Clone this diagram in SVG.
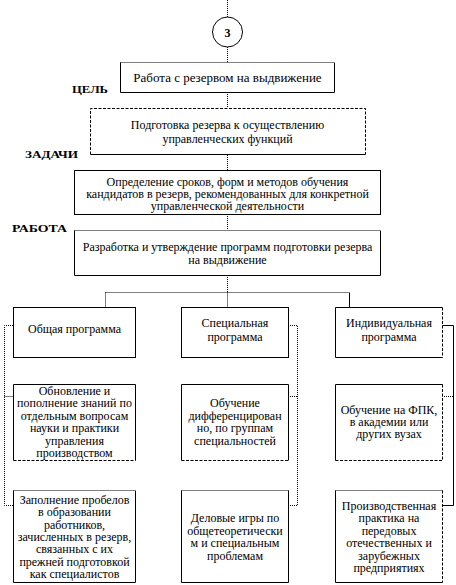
<svg xmlns="http://www.w3.org/2000/svg" width="456" height="585" viewBox="0 0 456 585">
<defs>
<path id="unused" d="M0 0"/>
</defs>
<rect width="456" height="585" fill="#fff"/>
<g id="connectors" fill="none" stroke="#000" stroke-width="1">
<path stroke-dasharray="1 1" d="M227.5 0V17M227.5 47V62M227.5 92V108M227.5 155V170M227.5 214V230M227.5 275V292.5M105.5 292.5H349.5M105.5 292.5V307M227.5 292.5V307"/>
<path d="M349.5 292.5V307"/>
<path stroke-dasharray="1 1" d="M13 325.5H4.5V505.5H13M4.5 396.5H13"/>
<path stroke-dasharray="1 1" d="M288 325.5H297.5V505.5H288M288 396.5H297.5"/>
<path d="M442 325.5H453.5V505.5H442"/>
<path stroke-dasharray="1 1" d="M442 396.5H453"/>
</g>
<g id="circle3">
<circle cx="227.5" cy="32" r="15" fill="#fff" stroke="#000"/>
<text x="227.5" y="36.5" font-family="Liberation Serif" font-size="12" font-weight="bold" text-anchor="middle">3</text>
</g>
<g id="n1">
<rect x="120.5" y="62.5" width="214" height="30" fill="#fff"/>
<path fill="none" stroke="#000" stroke-dasharray="1 1" d="M120.5 62.5H334.5"/>
<path fill="none" stroke="#000" d="M120.5 62.5V92.5H334.5V62.5"/>
<text x="227.5" y="81.5" font-family="Liberation Serif" font-size="13" text-anchor="middle">Работа с резервом на выдвижение</text>
</g>
<text id="lab-cel" x="72" y="93" font-family="Liberation Serif" font-size="10" font-weight="bold" textLength="36" lengthAdjust="spacingAndGlyphs">ЦЕЛЬ</text>
<g id="n2">
<rect x="90.5" y="108.5" width="275" height="46" fill="#fff"/>
<path fill="none" stroke="#000" stroke-dasharray="3 1.5" d="M90.5 154.5V108.5H365.5V154.5"/>
<path fill="none" stroke="#000" d="M90.5 154.5H365.5"/>
<text x="227.5" y="129" font-family="Liberation Serif" font-size="12" text-anchor="middle">Подготовка резерва к осуществлению</text>
<text x="227.5" y="143" font-family="Liberation Serif" font-size="12" text-anchor="middle">управленческих функций</text>
</g>
<text id="lab-zad" x="25" y="158" font-family="Liberation Serif" font-size="10" font-weight="bold" textLength="53" lengthAdjust="spacingAndGlyphs">ЗАДАЧИ</text>
<g id="n3">
<rect x="74.5" y="170.5" width="306" height="44" fill="#fff" stroke="#000"/>
<text x="227.5" y="186" font-family="Liberation Serif" font-size="12" text-anchor="middle">Определение сроков, форм и методов обучения</text>
<text x="227.5" y="198" font-family="Liberation Serif" font-size="12" text-anchor="middle">кандидатов в резерв, рекомендованных для конкретной</text>
<text x="227.5" y="210" font-family="Liberation Serif" font-size="12" text-anchor="middle">управленческой деятельности</text>
</g>
<text id="lab-rab" x="12" y="232" font-family="Liberation Serif" font-size="10" font-weight="bold" textLength="55" lengthAdjust="spacingAndGlyphs">РАБОТА</text>
<g id="n4">
<rect x="74.5" y="230.5" width="306" height="45" fill="#fff"/>
<path fill="none" stroke="#000" stroke-dasharray="1 1" d="M74.5 230.5H380.5"/>
<path fill="none" stroke="#000" d="M74.5 230.5V275.5H380.5V230.5"/>
<text x="227.5" y="251" font-family="Liberation Serif" font-size="12" text-anchor="middle">Разработка и утверждение программ подготовки резерва</text>
<text x="227.5" y="263.5" font-family="Liberation Serif" font-size="12" text-anchor="middle">на выдвижение</text>
</g>
<g id="p1">
<rect x="13.5" y="307.5" width="122" height="50" fill="#fff" stroke="#000"/>
<text x="74.5" y="333" font-family="Liberation Serif" font-size="12" text-anchor="middle">Общая программа</text>
</g>
<g id="p2">
<rect x="181.5" y="307.5" width="107" height="50" fill="#fff" stroke="#000"/>
<text x="235" y="327" font-family="Liberation Serif" font-size="12" text-anchor="middle">Специальная</text>
<text x="235" y="341" font-family="Liberation Serif" font-size="12" text-anchor="middle">программа</text>
</g>
<g id="p3">
<rect x="335.5" y="307.5" width="107" height="50" fill="#fff"/>
<path fill="none" stroke="#000" d="M442.5 307.5H335.5V357.5H442.5"/>
<path fill="none" stroke="#000" stroke-dasharray="3 1.5" d="M442.5 307.5V357.5"/>
<text x="389" y="327" font-family="Liberation Serif" font-size="12" text-anchor="middle">Индивидуальная</text>
<text x="389" y="341" font-family="Liberation Serif" font-size="12" text-anchor="middle">программа</text>
</g>
<g id="a1">
<rect x="13.5" y="384.5" width="122" height="76" fill="#fff"/>
<path fill="none" stroke="#000" d="M13.5 460.5V384.5H135.5V460.5"/>
<path fill="none" stroke="#000" stroke-dasharray="3 1.5" d="M13.5 460.5H135.5"/>
<text x="74.5" y="395" font-family="Liberation Serif" font-size="12" text-anchor="middle">Обновление и</text>
<text x="74.5" y="407.4" font-family="Liberation Serif" font-size="12" text-anchor="middle">пополнение знаний по</text>
<text x="74.5" y="419.8" font-family="Liberation Serif" font-size="12" text-anchor="middle">отдельным вопросам</text>
<text x="74.5" y="432.2" font-family="Liberation Serif" font-size="12" text-anchor="middle">науки и практики</text>
<text x="74.5" y="444.6" font-family="Liberation Serif" font-size="12" text-anchor="middle">управления</text>
<text x="74.5" y="457" font-family="Liberation Serif" font-size="12" text-anchor="middle">производством</text>
</g>
<g id="a2">
<rect x="181.5" y="384.5" width="107" height="76" fill="#fff"/>
<path fill="none" stroke="#000" d="M181.5 460.5V384.5H288.5V460.5"/>
<path fill="none" stroke="#000" stroke-dasharray="3 1.5" d="M181.5 460.5H288.5"/>
<text x="235" y="407.4" font-family="Liberation Serif" font-size="12" text-anchor="middle">Обучение</text>
<text x="235" y="419.8" font-family="Liberation Serif" font-size="12" text-anchor="middle">дифференцирован</text>
<text x="235" y="432.2" font-family="Liberation Serif" font-size="12" text-anchor="middle">но, по группам</text>
<text x="235" y="444.6" font-family="Liberation Serif" font-size="12" text-anchor="middle">специальностей</text>
</g>
<g id="a3">
<rect x="335.5" y="384.5" width="107" height="76" fill="#fff"/>
<path fill="none" stroke="#000" d="M335.5 460.5V384.5H442.5"/>
<path fill="none" stroke="#000" stroke-dasharray="3 1.5" d="M442.5 384.5V460.5H335.5"/>
<text x="389" y="413.6" font-family="Liberation Serif" font-size="12" text-anchor="middle">Обучение на ФПК,</text>
<text x="389" y="426" font-family="Liberation Serif" font-size="12" text-anchor="middle">в академии или</text>
<text x="389" y="438.4" font-family="Liberation Serif" font-size="12" text-anchor="middle">других вузах</text>
</g>
<g id="b1">
<rect x="13.5" y="490.5" width="122" height="92" fill="#fff"/>
<path fill="none" stroke="#000" stroke-dasharray="1 1" d="M13.5 490.5H135.5"/>
<path fill="none" stroke="#000" d="M13.5 490.5V582.5H135.5V490.5"/>
<text x="74.5" y="503.8" font-family="Liberation Serif" font-size="12" text-anchor="middle">Заполнение пробелов</text>
<text x="74.5" y="516.2" font-family="Liberation Serif" font-size="12" text-anchor="middle">в образовании</text>
<text x="74.5" y="528.6" font-family="Liberation Serif" font-size="12" text-anchor="middle">работников,</text>
<text x="74.5" y="541" font-family="Liberation Serif" font-size="12" text-anchor="middle">зачисленных в резерв,</text>
<text x="74.5" y="553.4" font-family="Liberation Serif" font-size="12" text-anchor="middle">связанных с их</text>
<text x="74.5" y="565.8" font-family="Liberation Serif" font-size="12" text-anchor="middle">прежней подготовкой</text>
<text x="74.5" y="578.2" font-family="Liberation Serif" font-size="12" text-anchor="middle">как специалистов</text>
</g>
<g id="b2">
<rect x="181.5" y="490.5" width="107" height="92" fill="#fff"/>
<path fill="none" stroke="#000" stroke-dasharray="1 1" d="M181.5 490.5H288.5"/>
<path fill="none" stroke="#000" d="M181.5 490.5V582.5H288.5V490.5"/>
<text x="235" y="522.4" font-family="Liberation Serif" font-size="12" text-anchor="middle">Деловые игры по</text>
<text x="235" y="534.8" font-family="Liberation Serif" font-size="12" text-anchor="middle">общетеоретически</text>
<text x="235" y="547.2" font-family="Liberation Serif" font-size="12" text-anchor="middle">м и специальным</text>
<text x="235" y="559.6" font-family="Liberation Serif" font-size="12" text-anchor="middle">проблемам</text>
</g>
<g id="b3">
<rect x="335.5" y="490.5" width="107" height="92" fill="#fff"/>
<path fill="none" stroke="#000" stroke-dasharray="1 1" d="M335.5 490.5H442.5"/>
<path fill="none" stroke="#000" d="M335.5 490.5V582.5H442.5"/>
<path fill="none" stroke="#000" stroke-dasharray="3 1.5" d="M442.5 490.5V582.5"/>
<text x="389" y="510" font-family="Liberation Serif" font-size="12" text-anchor="middle">Производственная</text>
<text x="389" y="522.4" font-family="Liberation Serif" font-size="12" text-anchor="middle">практика на</text>
<text x="389" y="534.8" font-family="Liberation Serif" font-size="12" text-anchor="middle">передовых</text>
<text x="389" y="547.2" font-family="Liberation Serif" font-size="12" text-anchor="middle">отечественных и</text>
<text x="389" y="559.6" font-family="Liberation Serif" font-size="12" text-anchor="middle">зарубежных</text>
<text x="389" y="572" font-family="Liberation Serif" font-size="12" text-anchor="middle">предприятиях</text>
</g>
</svg>
